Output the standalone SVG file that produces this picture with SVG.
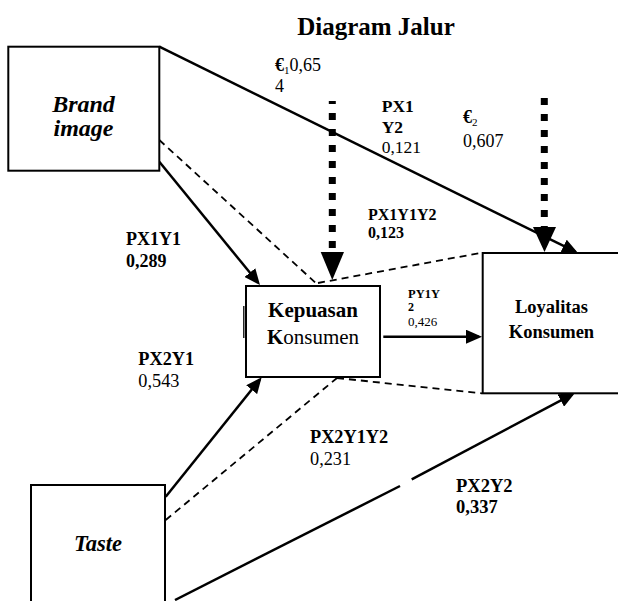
<svg xmlns="http://www.w3.org/2000/svg" width="618" height="601" viewBox="0 0 618 601">
  <style>
    text { font-family: "Liberation Serif", "Times New Roman", serif; fill: #000; }
    .b { font-weight: bold; }
    .bi { font-weight: bold; font-style: italic; }
    .box { fill: #fff; stroke: #000; stroke-width: 2; }
    .solid { fill: none; stroke: #000; stroke-width: 2.5; }
    .dash { fill: none; stroke: #000; stroke-width: 1.8; stroke-dasharray: 7 5; }
    .dot { fill: none; stroke: #000; stroke-width: 7; stroke-dasharray: 7 9; }
    .head { fill: #000; stroke: none; }
  </style>
  <defs>
    <marker id="arr" markerUnits="userSpaceOnUse" viewBox="0 0 16 14" refX="13" refY="7" markerWidth="16" markerHeight="14" orient="auto">
      <path d="M0,0 L16,7 L0,14 z" class="head"/>
    </marker>
  </defs>

  <rect width="618" height="601" fill="#fff"/>

  <!-- title -->
  <text x="376" y="35" class="b" font-size="25" text-anchor="middle">Diagram Jalur</text>

  <!-- connectors -->
  <g id="connectors">
    <!-- direct effects -->
    <line class="solid" x1="159.3" y1="161.7" x2="258.1" y2="282.7" marker-end="url(#arr)"/>
    <line class="solid" x1="159.3" y1="46.7" x2="575.3" y2="251.7" marker-end="url(#arr)"/>
    <line class="solid" x1="165.7" y1="496.7" x2="259.8" y2="379.6" marker-end="url(#arr)"/>
    <line class="solid" x1="175" y1="600" x2="400" y2="486"/>
    <line class="solid" x1="411.7" y1="479.3" x2="572.3" y2="394.4" marker-end="url(#arr)"/>
    <line class="solid" x1="383.3" y1="336.7" x2="479" y2="336.7" marker-end="url(#arr)"/>

    <!-- indirect effects via Kepuasan Konsumen -->
    <line class="dash" x1="159.3" y1="140" x2="318" y2="285"/>
    <line class="dash" x1="318" y1="283" x2="481.7" y2="252.7"/>
    <line class="dash" x1="165.7" y1="520" x2="337" y2="378"/>
    <line class="dash" x1="337" y1="378" x2="482" y2="393.3"/>

    <!-- error terms -->
    <line class="dot" x1="332.3" y1="101" x2="332.3" y2="250" stroke-dashoffset="4"/>
    <polygon class="head" points="320.7,252 344,252 332.3,280"/>
    <line class="dot" x1="544.3" y1="98" x2="544.3" y2="229"/>
    <polygon class="head" points="533,227 556,227 544.5,252"/>
  </g>

  <!-- nodes -->
  <g id="brand-image">
    <rect class="box" x="8.3" y="46.7" width="151" height="124"/>
    <text x="83.5" y="111.7" class="bi" font-size="24" text-anchor="middle">Brand</text>
    <text x="83.5" y="136" class="bi" font-size="24" text-anchor="middle">image</text>
  </g>

  <g id="taste">
    <rect class="box" x="31" y="485" width="134" height="130"/>
    <text x="98" y="550.7" class="bi" font-size="22.5" text-anchor="middle">Taste</text>
  </g>

  <g id="kepuasan-konsumen">
    <rect class="box" x="246" y="286" width="134" height="91"/>
    <line x1="243.8" y1="306" x2="243.8" y2="338" stroke="#000" stroke-width="1.3"/>
    <text x="313" y="316.7" class="b" font-size="21" text-anchor="middle">Kepuasan</text>
    <text x="313" y="344" font-size="21" text-anchor="middle"><tspan class="b">K</tspan>onsumen</text>
  </g>

  <g id="loyalitas-konsumen">
    <rect class="box" x="482.7" y="253" width="200" height="140.3"/>
    <text x="551.5" y="313" class="b" font-size="18.5" text-anchor="middle">Loyalitas</text>
    <text x="551.5" y="338" class="b" font-size="18.5" text-anchor="middle">Konsumen</text>
  </g>

  <!-- path coefficients -->
  <g id="labels">
    <text x="275" y="70.7" font-size="18"><tspan class="b">€</tspan><tspan font-size="11" dy="3">1</tspan><tspan dy="-3">0,65</tspan></text>
    <text x="275" y="91.7" font-size="18">4</text>

    <text x="381.7" y="111.7" class="b" font-size="17.5">PX1</text>
    <text x="381.7" y="132.7" class="b" font-size="17.5">Y2</text>
    <text x="381.7" y="153" font-size="17.5">0,121</text>

    <text x="463" y="123" font-size="18"><tspan class="b">€</tspan><tspan font-size="11" dy="3">2</tspan></text>
    <text x="463" y="147" font-size="18">0,607</text>

    <text x="126" y="245" class="b" font-size="18">PX1Y1</text>
    <text x="126" y="266.7" class="b" font-size="18">0,289</text>

    <text x="368" y="220" class="b" font-size="16">PX1Y1Y2</text>
    <text x="368" y="238.3" class="b" font-size="16">0,123</text>

    <text x="408" y="298" class="b" font-size="12.5">PY1Y</text>
    <text x="408" y="311" class="b" font-size="12">2</text>
    <text x="408" y="326" font-size="13">0,426</text>

    <text x="138.3" y="365" class="b" font-size="18.3">PX2Y1</text>
    <text x="138.3" y="387.3" font-size="18.3">0,543</text>

    <text x="310" y="443.3" class="b" font-size="18.3">PX2Y1Y2</text>
    <text x="310" y="465" font-size="18.3">0,231</text>

    <text x="456" y="491.7" class="b" font-size="18.5">PX2Y2</text>
    <text x="456" y="512.7" class="b" font-size="18.5">0,337</text>
  </g>
</svg>
